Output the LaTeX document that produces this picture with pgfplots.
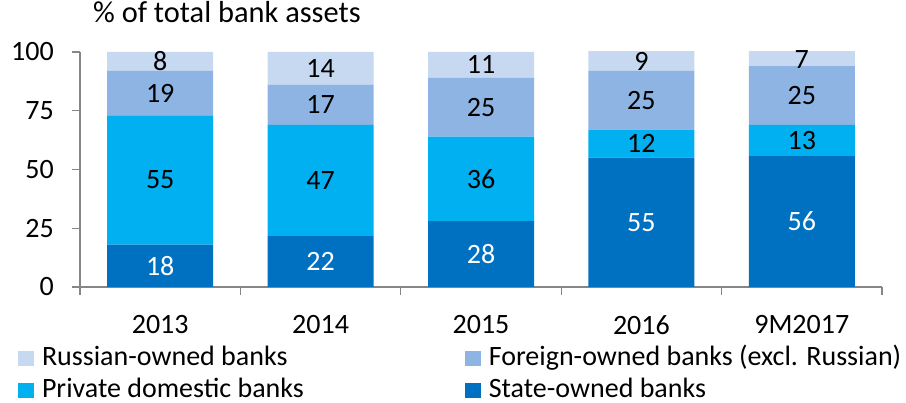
\documentclass[border=0pt]{standalone}
\usepackage{pgfplots}
\pgfplotsset{compat=1.18}
\usepackage{fontspec}
\setmainfont{Carlito}
\definecolor{cRus}{RGB}{198,217,240}
\definecolor{cFor}{RGB}{142,180,227}
\definecolor{cPri}{RGB}{0,176,240}
\definecolor{cSta}{RGB}{0,112,192}
\definecolor{axgray}{RGB}{134,134,134}
\pgfplotstableread{
x y lab
0 9 18
1 11 22
2 14 28
3 27.5 55
4 28 56
}\labsta
\pgfplotstableread{
x y lab
0 45.5 55
1 45.5 47
2 46 36
3 61 12
4 62.5 13
0 82.5 19
1 77.5 17
2 76.5 25
3 79.5 25
4 81.5 25
0 96 8
1 93 14
2 94.5 11
3 96 9
4 97 7
}\labother
\begin{document}
\begin{tikzpicture}[x=1pt,y=1pt]
\useasboundingbox (0,0) rectangle (906,403);
\pgfplotsset{
  base/.style={
    at={(80pt,116pt)}, anchor=south west, scale only axis,
    width=802pt, height=235pt,
    xmin=-0.5, xmax=4.5, ymin=0, ymax=100,
  }
}
\begin{axis}[base,
  ybar stacked, bar width=106pt,
  font=\fontsize{28}{32}\selectfont,
  /pgf/number format/assume math mode=true,
  axis x line*=bottom, axis y line*=left,
  axis line style={draw=axgray, line width=1.1pt},
  tick style={draw=axgray, line width=1.1pt},
  tick align=outside, major tick length=8pt,
  ytick={0,25,50,75,100},
  yticklabel style={inner sep=0pt},
  yticklabel shift=18pt,
  xtick={-0.5,0.5,1.5,2.5,3.5,4.5},
  x tick label as interval,
  xticklabels={2013,2014,2015,2016,9M2017},
  xticklabel style={inner sep=0pt, anchor=north},
  xticklabel shift=20pt,
  title={\% of total bank assets},
  title style={at={(axis description cs:0.0162,1.102)}, anchor=base west, inner sep=0pt,
    font=\fontsize{30.4}{34}\selectfont},
  reverse legend,
  legend columns=2,
  legend cell align=left,
  legend image code/.code={\fill[#1] (0pt,-1pt) rectangle (16pt,14pt);},
  legend style={at={(axis description cs:-0.0773,-0.2596)}, anchor=north west,
    draw=none, fill=none, inner sep=0pt, outer sep=0pt,
    cells={anchor=base west},
    nodes={inner sep=0pt, outer sep=0pt, text height=17pt, text depth=3pt},
    row sep=12pt,
    /tikz/every odd column/.append style={column sep=8pt},
    /tikz/every even column/.append style={column sep=161pt}},
]
\addplot[fill=cSta, draw=none] coordinates {(0,18) (1,22) (2,28) (3,55) (4,56)};
\addlegendentry{State-owned banks}
\addplot[fill=cPri, draw=none] coordinates {(0,55) (1,47) (2,36) (3,12) (4,13)};
\addlegendentry{Private domestic banks}
\addplot[fill=cFor, draw=none] coordinates {(0,19) (1,17) (2,25) (3,25) (4,25)};
\addlegendentry{Foreign-owned banks (excl. Russian)}
\addplot[fill=cRus, draw=none] coordinates {(0,8) (1,14) (2,11) (3,9) (4,7)};
\addlegendentry{Russian-owned banks}
\end{axis}
\begin{axis}[base, hide axis, clip=false,
  font=\fontsize{28}{32}\selectfont]
\addplot[draw=none, mark=none, nodes near coords, point meta=explicit symbolic,
  nodes near coords style={anchor=center, text=white, inner sep=0pt}]
  table[x=x, y=y, meta=lab] {\labsta};
\addplot[draw=none, mark=none, nodes near coords, point meta=explicit symbolic,
  nodes near coords style={anchor=center, text=black, inner sep=0pt}]
  table[x=x, y=y, meta=lab] {\labother};
\end{axis}
\end{tikzpicture}
\end{document}
